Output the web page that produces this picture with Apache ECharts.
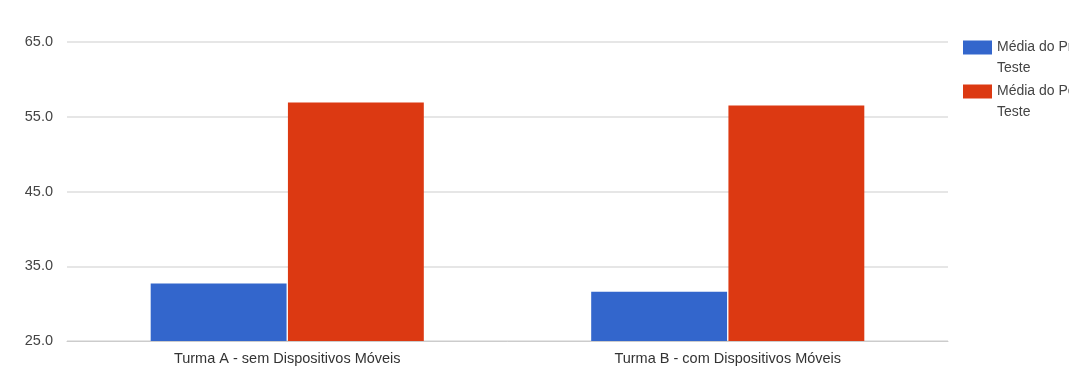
<!DOCTYPE html>
<html>
<head>
<meta charset="utf-8">
<script src="https://cdn.jsdelivr.net/npm/echarts@6/dist/echarts.min.js"></script>
<style>
  html, body { margin: 0; padding: 0; background: #fff; }
  #chart { width: 1069px; height: 380px; }
</style>
</head>
<body>
<div id="chart"></div>
<script>
// Class groups on the x axis
const categories = ['Turma A - sem Dispositivos Móveis', 'Turma B - com Dispositivos Móveis'];
// Series names and their averages
const seriesNames = ['Média do Pré-Teste', 'Média do Pós-Teste'];
const preTeste = [32.7, 31.6];
const posTeste = [56.9, 56.5];
// Value axis range
const yMin = 25;
const yMax = 65;
const yStep = 10;

const chart = echarts.init(document.getElementById('chart'), null, { renderer: 'canvas' });
const font = 'Arial, "Liberation Sans", sans-serif';

chart.setOption({
  animation: false,
  backgroundColor: '#ffffff',
  color: ['#3366cc', '#dc3912'],
  grid: { left: 67, right: 121, top: 42, bottom: 39 },
  legend: {
    orient: 'vertical',
    left: 963,
    top: 16,
    padding: 0,
    itemWidth: 29,
    itemHeight: 14,
    itemGap: -19,
    icon: 'rect',
    // leading blank line keeps the first text line level with the swatch
    formatter: name => '\n' + name.replace('-Teste', '-\nTeste'),
    textStyle: {
      fontFamily: font,
      fontSize: 14,
      color: '#444444',
      lineHeight: 21
    },
    data: seriesNames
  },
  xAxis: {
    type: 'category',
    data: categories,
    axisLine: { show: true, lineStyle: { color: '#cccccc', width: 1 } },
    axisTick: { show: false },
    axisLabel: { fontFamily: font, fontSize: 14.5, color: '#333333', margin: 10 }
  },
  yAxis: {
    type: 'value',
    min: yMin,
    max: yMax,
    interval: yStep,
    axisLine: { show: false },
    axisTick: { show: false },
    splitLine: { lineStyle: { color: '#e6e6e6', width: 2 } },
    axisLabel: {
      fontFamily: font,
      fontSize: 14.5,
      color: '#444444',
      margin: 14,
      formatter: v => v.toFixed(1)
    }
  },
  series: [
    {
      name: seriesNames[0],
      type: 'bar',
      data: preTeste,
      barGap: '1%',
      barCategoryGap: '38%'
    },
    {
      name: seriesNames[1],
      type: 'bar',
      data: posTeste,
      barGap: '1%',
      barCategoryGap: '38%'
    }
  ]
});
</script>
</body>
</html>
